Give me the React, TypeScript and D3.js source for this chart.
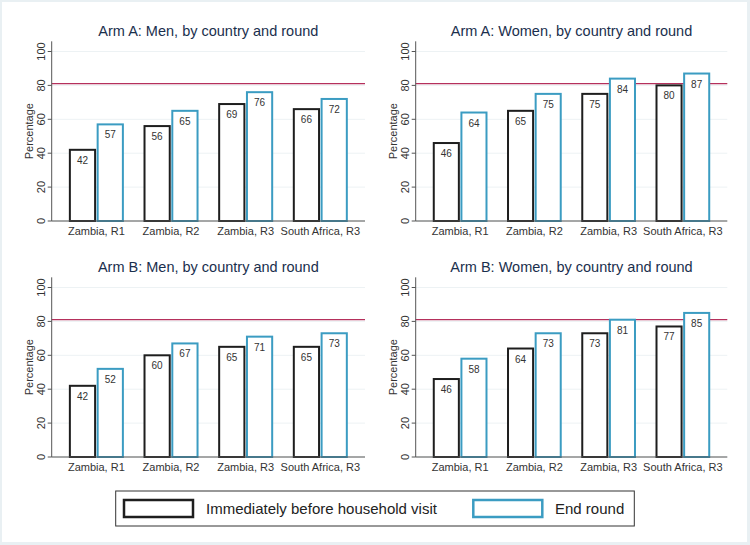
import React from "react";
import * as d3 from "d3";

const categories = ["Zambia, R1", "Zambia, R2", "Zambia, R3", "South Africa, R3"];
const seriesNames = ["Immediately before household visit", "End round"];
const yTicks = [0, 20, 40, 60, 80, 100];
const targetValue = 81;

const armAMenBefore = [42, 56, 69, 66];
const armAMenEnd = [57, 65, 76, 72];
const armAWomenBefore = [46, 65, 75, 80];
const armAWomenEnd = [64, 75, 84, 87];
const armBMenBefore = [42, 60, 65, 65];
const armBMenEnd = [52, 67, 71, 73];
const armBWomenBefore = [46, 64, 73, 77];
const armBWomenEnd = [58, 73, 81, 85];

const panelTitles = [
  "Arm A: Men, by country and round",
  "Arm A: Women, by country and round",
  "Arm B: Men, by country and round",
  "Arm B: Women, by country and round",
];

const panelsData = [
  [armAMenBefore, armAMenEnd],
  [armAWomenBefore, armAWomenEnd],
  [armBMenBefore, armBMenEnd],
  [armBWomenBefore, armBWomenEnd],
];

const layout = [
  { x0: 51.7, x1: 365, y0: 221 },
  { x0: 415.7, x1: 727.3, y0: 221 },
  { x0: 51.7, x1: 365, y0: 457 },
  { x0: 415.7, x1: 727.3, y0: 457 },
];

const FONT = "Liberation Sans, Arial, Helvetica, sans-serif";
const BLACK = "#1e1e1e";
const BLUE = "#3b9cc2";
const seriesColors = [BLACK, BLUE];

function Panel({ idx }: { idx: number }) {
  const { x0, x1, y0 } = layout[idx];
  const pxPer = 1.695;
  const yMax = 106;
  const y = d3.scaleLinear().domain([0, yMax]).range([y0, y0 - yMax * pxPer]);
  const x = d3
    .scaleBand<string>()
    .domain(categories)
    .range([x0, x1])
    .paddingInner(0.263)
    .paddingOuter(0.23);
  const sub = d3
    .scaleBand<string>()
    .domain(["0", "1"])
    .range([0, x.bandwidth()])
    .paddingInner(0.02);
  const data = panelsData[idx];
  const cx = (x0 + x1) / 2;
  return (
    <g>
      <text
        x={cx}
        y={y0 - 185}
        textAnchor="middle"
        fontSize={14.5}
        fill="#1a2f4d"
        fontFamily={FONT}
      >
        {panelTitles[idx]}
      </text>
      {yTicks.map((t) => (
        <line
          key={"g" + t}
          x1={x0}
          x2={x1}
          y1={y(t)}
          y2={y(t)}
          stroke="#edf2f4"
          strokeWidth={1}
        />
      ))}
      <line x1={x0} x2={x1} y1={y(targetValue)} y2={y(targetValue)} stroke="#b5305c" strokeWidth={1.3} />
      {categories.map((c, ci) =>
        data.map((vals, si) => {
          const bx = (x(c) as number) + (sub(String(si)) as number);
          const bw = sub.bandwidth();
          const top = y(vals[ci]);
          return (
            <g key={c + si}>
              <rect
                x={bx + 1}
                y={top}
                width={bw - 2}
                height={y0 - top}
                fill="white"
                stroke={seriesColors[si]}
                strokeWidth={2}
              />
              <text
                x={bx + bw / 2}
                y={top + 14}
                textAnchor="middle"
                fontSize={10}
                fill="#333"
                fontFamily={FONT}
              >
                {vals[ci]}
              </text>
            </g>
          );
        })
      )}
      <line x1={x0} x2={x1} y1={y0} y2={y0} stroke="#555" strokeWidth={1} />
      <line x1={x0} x2={x0} y1={y0} y2={y(yMax)} stroke="#555" strokeWidth={1} />
      {yTicks.map((t) => (
        <g key={"t" + t}>
          <line x1={x0 - 4} x2={x0} y1={y(t)} y2={y(t)} stroke="#555" strokeWidth={1} />
          <text
            transform={`translate(${x0 - 7},${y(t)}) rotate(-90)`}
            textAnchor="middle"
            fontSize={11}
            fill="#333"
            fontFamily={FONT}
          >
            {t}
          </text>
        </g>
      ))}
      <text
        transform={`translate(${x0 - 19},${y(53)}) rotate(-90)`}
        textAnchor="middle"
        fontSize={11}
        fill="#333"
        fontFamily={FONT}
      >
        Percentage
      </text>
      {categories.map((c) => (
        <text
          key={"c" + c}
          x={(x(c) as number) + x.bandwidth() / 2}
          y={y0 + 14}
          textAnchor="middle"
          fontSize={11}
          fill="#333"
          fontFamily={FONT}
        >
          {c}
        </text>
      ))}
    </g>
  );
}

export default function App() {
  return (
    <svg
      width={750}
      height={545}
      style={{ position: "absolute", left: 0, top: 0, display: "block" }}
    >
      <rect x={0} y={0} width={750} height={545} fill="#e9f0f3" />
      <rect x={2} y={2} width={745} height={540} fill="white" />
      {[0, 1, 2, 3].map((i) => (
        <Panel key={i} idx={i} />
      ))}
      <rect x={115.7} y={491} width={518.6} height={35} fill="white" stroke="#333" strokeWidth={1} />
      <rect x={124} y={500} width={69} height={17} fill="white" stroke={BLACK} strokeWidth={2.5} />
      <text x={206} y={514} fontSize={15} fill="#222" fontFamily={FONT}>
        {seriesNames[0]}
      </text>
      <rect x={473.3} y={500} width={69} height={17} fill="white" stroke={BLUE} strokeWidth={2.5} />
      <text x={555} y={514} fontSize={15} fill="#222" fontFamily={FONT}>
        {seriesNames[1]}
      </text>
    </svg>
  );
}
